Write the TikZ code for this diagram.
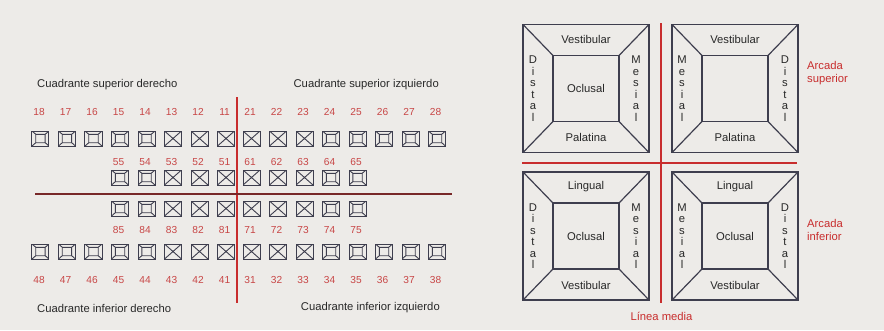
\documentclass[tikz,border=0pt]{standalone}
\usepackage{fontspec}
\setmainfont{Liberation Sans}
\usetikzlibrary{matrix,positioning}

\definecolor{bgc}{RGB}{237,235,232}
\definecolor{linec}{RGB}{62,62,78}
\definecolor{textc}{RGB}{40,40,40}
\definecolor{redc}{RGB}{200,45,45}
\definecolor{numc}{RGB}{200,70,70}
\definecolor{midc}{RGB}{120,40,40}

\tikzset{
toothmat/.style={
  matrix of nodes,
  nodes in empty cells,
  inner sep=0pt,
  outer sep=0pt,
  nodes={text height=11bp, text depth=4bp, minimum width=17bp,
         inner sep=0pt, outer sep=0pt, align=center,
         font=\fontsize{10.2}{12}\selectfont, text=numc},
  column sep=8.5bp,
  row sep=0pt
  }
}
\tikzset{
  posterior/.style={draw=linec, line width=1bp, path picture={
    \draw[linec, line width=0.9bp]
      ([shift={(3.8bp,-3.3bp)}]path picture bounding box.north west) rectangle
      ([shift={(-3.8bp,3.3bp)}]path picture bounding box.south east)
      (path picture bounding box.north west) -- ++(3.8bp,-3.3bp)
      (path picture bounding box.north east) -- ++(-3.8bp,-3.3bp)
      (path picture bounding box.south west) -- ++(3.8bp,3.3bp)
      (path picture bounding box.south east) -- ++(-3.8bp,3.3bp);
  }},
  anterior/.style={draw=linec, line width=1bp, path picture={
    \draw[linec, line width=0.9bp]
      (path picture bounding box.north west) -- (path picture bounding box.south east)
      (path picture bounding box.north east) -- (path picture bounding box.south west);
  }},
  cells/.style n args={3}{
    sub@cells/.style={row #2 column ##1/.style={nodes={#1}}},
    sub@cells/.list={#3}
  }
}
\tikzset{
  lbl/.style={font=\fontsize{11.3}{13}\selectfont, text=textc, inner sep=0pt},
  vlbl/.style={lbl, align=center, font=\fontsize{11.3}{11.5}\selectfont},
  rlbl/.style={lbl, text=redc, align=left},
  bigbox/.style={draw=linec, line width=1.2bp, minimum width=126bp,
    minimum height=128bp, inner sep=0pt, outer sep=0pt},
  occbox/.style={bigbox, lbl, minimum width=66bp, minimum height=66bp},
  redline/.style={draw=redc, line width=1.5bp}
}

\begin{document}
\begin{tikzpicture}[x=1bp,y=-1bp,>=latex]

\fill[bgc] (0,0) rectangle (884,330);
\useasboundingbox (0,0) rectangle (884,330);

\node[lbl,anchor=west] (qsd) at (37,85) {Cuadrante superior derecho};
\node[lbl,anchor=east] (qsi) at (439,85) {Cuadrante superior izquierdo};
\node[lbl,anchor=west] (qid) at (37,308) {Cuadrante inferior derecho};
\node[lbl,anchor=east] (qii) at (440,308) {Cuadrante inferior izquierdo};

\matrix[toothmat,
    cells={posterior}{2}{1,2,3,4,5}, cells={anterior}{2}{6,7,8},
    cells={posterior}{4}{4,5}, cells={anterior}{4}{6,7,8}]
at (133.25,145)
(sd)
{
  18 & 17 & 16 & 15 & 14 & 13 & 12 & 11 \\[11bp]
     &    &    &    &    &    &    &    \\[8bp]
     &    &    & 55 & 54 & 53 & 52 & 51 \\
     &    &    &    &    &    &    &    \\};

\matrix[toothmat,
    cells={anterior}{2}{1,2,3}, cells={posterior}{2}{4,5,6,7,8},
    cells={anterior}{4}{1,2,3}, cells={posterior}{4}{4,5}]
at (344.25,145)
(si)
{
  21 & 22 & 23 & 24 & 25 & 26 & 27 & 28 \\[11bp]
     &    &    &    &    &    &    &    \\[8bp]
  61 & 62 & 63 & 64 & 65 &    &    &    \\
     &    &    &    &    &    &    &    \\};

\matrix[toothmat,
    cells={posterior}{1}{4,5}, cells={anterior}{1}{6,7,8},
    cells={posterior}{3}{1,2,3,4,5}, cells={anterior}{3}{6,7,8}]
at (133.25,244)
(id)
{
     &    &    &    &    &    &    &    \\[6bp]
     &    &    & 85 & 84 & 83 & 82 & 81 \\[6bp]
     &    &    &    &    &    &    &    \\[13bp]
  48 & 47 & 46 & 45 & 44 & 43 & 42 & 41 \\};

\matrix[toothmat,
    cells={anterior}{1}{1,2,3}, cells={posterior}{1}{4,5},
    cells={anterior}{3}{1,2,3}, cells={posterior}{3}{4,5,6,7,8}]
at (344.25,244)
(ii)
{
     &    &    &    &    &    &    &    \\[6bp]
  71 & 72 & 73 & 74 & 75 &    &    &    \\[6bp]
     &    &    &    &    &    &    &    \\[13bp]
  31 & 32 & 33 & 34 & 35 & 36 & 37 & 38 \\};

\draw[redline] (237,97) -- (237,303);
\draw[draw=midc, line width=1.5bp] (35,194) -- (452,194);

\node[bigbox] (b1) at (586,88.5) {};
\node[occbox] (o1) at (586,88.5) {Oclusal};
\node[bigbox] (b2) at (735,88.5) {};
\node[occbox] (o2) at (735,88.5) {};
\node[bigbox] (b3) at (586,236) {};
\node[occbox] (o3) at (586,236) {Oclusal};
\node[bigbox] (b4) at (735,236) {};
\node[occbox] (o4) at (735,236) {Oclusal};

\draw[linec, line width=1.2bp]
  (b1.north west) -- (o1.north west) (b1.north east) -- (o1.north east)
  (b1.south west) -- (o1.south west) (b1.south east) -- (o1.south east);
\draw[linec, line width=1.2bp]
  (b2.north west) -- (o2.north west) (b2.north east) -- (o2.north east)
  (b2.south west) -- (o2.south west) (b2.south east) -- (o2.south east);
\draw[linec, line width=1.2bp]
  (b3.north west) -- (o3.north west) (b3.north east) -- (o3.north east)
  (b3.south west) -- (o3.south west) (b3.south east) -- (o3.south east);
\draw[linec, line width=1.2bp]
  (b4.north west) -- (o4.north west) (b4.north east) -- (o4.north east)
  (b4.south west) -- (o4.south west) (b4.south east) -- (o4.south east);

\node[lbl] (v1) at (586,39.5) {Vestibular};
\node[lbl] (p1) at (586,137) {Palatina};
\node[vlbl] (d1) at (533,88.5) {D\\i\\s\\t\\a\\l};
\node[vlbl] (m1) at (636,88.5) {M\\e\\s\\i\\a\\l};

\node[lbl] (v2) at (735,39.5) {Vestibular};
\node[lbl] (p2) at (735,137) {Palatina};
\node[vlbl] (m2) at (682,88.5) {M\\e\\s\\i\\a\\l};
\node[vlbl] (d2) at (785,88.5) {D\\i\\s\\t\\a\\l};

\node[lbl] (l3) at (586,187) {Lingual};
\node[lbl] (v3) at (586,285) {Vestibular};
\node[vlbl] (d3) at (533,236) {D\\i\\s\\t\\a\\l};
\node[vlbl] (m3) at (636,236) {M\\e\\s\\i\\a\\l};

\node[lbl] (l4) at (735,187) {Lingual};
\node[lbl] (v4) at (735,285) {Vestibular};
\node[vlbl] (m4) at (682,236) {M\\e\\s\\i\\a\\l};
\node[vlbl] (d4) at (785,236) {D\\i\\s\\t\\a\\l};

\draw[redline] (661,23) -- (661,303);
\draw[redline] (522,163) -- (797,163);

\node[rlbl,anchor=west] (asup) at (807,73.5) {Arcada\\superior};
\node[rlbl,anchor=west] (ainf) at (807,230) {Arcada\\inferior};
\node[rlbl] (lmed) at (661.5,316) {Línea media};

\end{tikzpicture}
\end{document}
